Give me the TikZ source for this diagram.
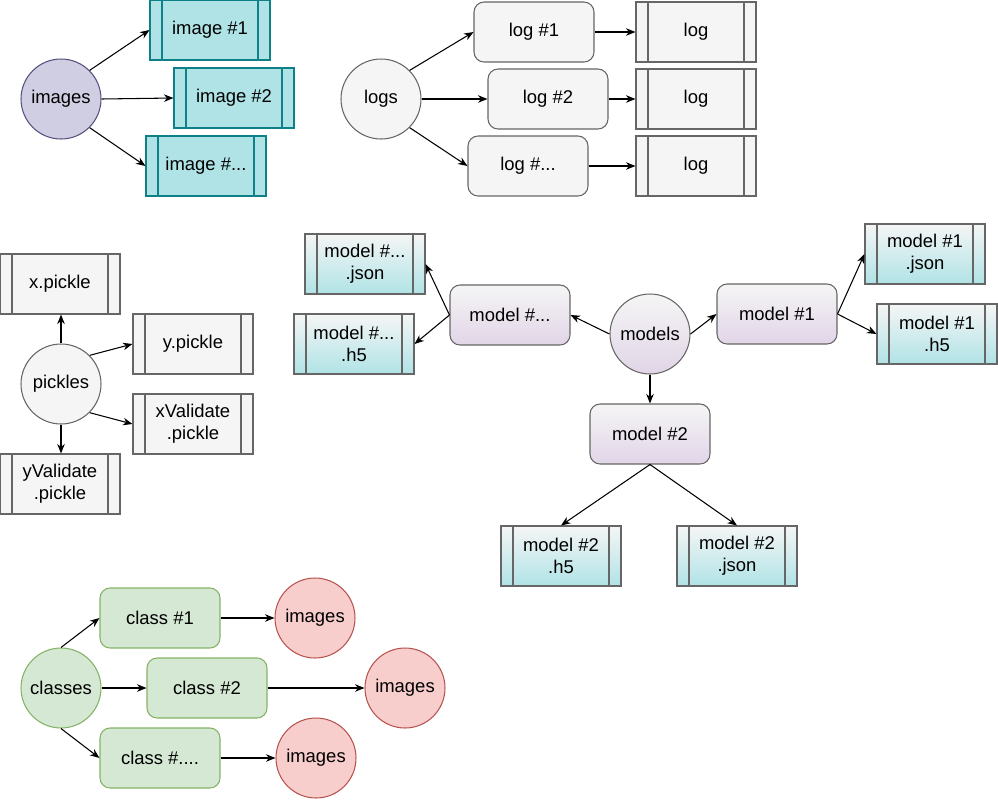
\documentclass[tikz,border=0pt]{standalone}
\usepackage{fontspec}
\setmainfont{Liberation Sans}
\usepackage{xcolor}
\usetikzlibrary{arrows.meta,positioning}
\definecolor{tealfill}{HTML}{B0E3E6}
\definecolor{tealline}{HTML}{0E8088}
\definecolor{purpfill}{HTML}{D0CEE2}
\definecolor{purpline}{HTML}{56517E}
\definecolor{grayfill}{HTML}{F5F5F5}
\definecolor{grayline}{HTML}{666666}
\definecolor{greenfill}{HTML}{D5E8D4}
\definecolor{greenline}{HTML}{82B366}
\definecolor{redfill}{HTML}{F8CECC}
\definecolor{redline}{HTML}{B85450}
\definecolor{lilac}{HTML}{E1D5E7}

\begin{document}
\begin{tikzpicture}[x=0.02cm, y=-0.02cm,
  every node/.style={font=\fontsize{10.5}{12.5}\selectfont},
  circ/.style={circle, draw=#1, minimum size=1.6cm, inner sep=0pt, line width=0.6pt},
  rbox/.style={rectangle, rounded corners=0.2cm, draw=#1, minimum width=2.4cm, minimum height=1.2cm, inner sep=0pt, align=center, line width=0.6pt},
  proc/.style={rectangle, draw=#1, minimum width=2.4cm, minimum height=1.2cm, inner sep=0pt, align=center, line width=0.6pt,
    path picture={\draw[#1, line width=0.6pt]
      ([xshift=0.24cm]path picture bounding box.north west) -- ([xshift=0.24cm]path picture bounding box.south west)
      ([xshift=-0.24cm]path picture bounding box.north east) -- ([xshift=-0.24cm]path picture bounding box.south east);}},
  modelfile/.style={proc=grayline, top color=grayfill, bottom color=tealfill},
  modelbox/.style={rbox=grayline, top color=grayfill, bottom color=lilac},
  arr/.style={-{Stealth[length=1.9mm, width=1.5mm, inset=0.6mm]}, line width=0.6pt}
]
\useasboundingbox (0,0) rectangle (998,799);

% images
\node[circ=purpline, fill=purpfill] (imgs) at (61,99) {images};
\node[proc=tealline, fill=tealfill] (img1) at (210,30) {image \#1};
\node[proc=tealline, fill=tealfill] (img2) at (234,98) {image \#2};
\node[proc=tealline, fill=tealfill] (img3) at (206,166) {image \#...};
\draw[arr] (imgs.45) -- (img1.west);
\draw[arr] (imgs.east) -- (img2.west);
\draw[arr] (imgs.-45) -- (img3.west);

% logs
\node[circ=grayline, fill=grayfill] (logs) at (381,99) {logs};
\node[rbox=grayline, fill=grayfill] (log1) at (534,32) {log \#1};
\node[rbox=grayline, fill=grayfill] (log2) at (548,99) {log \#2};
\node[rbox=grayline, fill=grayfill] (log3) at (528,166) {log \#...};
\node[proc=grayline, fill=grayfill] (logf1) at (696,32) {log};
\node[proc=grayline, fill=grayfill] (logf2) at (696,99) {log};
\node[proc=grayline, fill=grayfill] (logf3) at (696,166) {log};
\draw[arr] (logs.45) -- (log1.west);
\draw[arr] (logs.east) -- (log2.west);
\draw[arr] (logs.-45) -- (log3.west);
\draw[arr] (log1.east) -- (logf1.west);
\draw[arr] (log2.east) -- (logf2.west);
\draw[arr] (log3.east) -- (logf3.west);

% pickles
\node[circ=grayline, fill=grayfill] (pick) at (61,384) {pickles};
\node[proc=grayline, fill=grayfill] (xpick) at (60,284) {x.pickle};
\node[proc=grayline, fill=grayfill] (ypick) at (193,344) {y.pickle};
\node[proc=grayline, fill=grayfill] (xval) at (193,424) {xValidate\\.pickle};
\node[proc=grayline, fill=grayfill] (yval) at (60,484) {yValidate\\.pickle};
\draw[arr] (pick.north) -- (xpick.south -| pick.north);
\draw[arr] (pick.45) -- (ypick.west);
\draw[arr] (pick.-45) -- (xval.west);
\draw[arr] (pick.south) -- (yval.north -| pick.south);

% models
\node[circ=grayline, top color=grayfill, bottom color=lilac] (models) at (650,334) {models};
\node[modelbox] (mdots) at (510,315) {model \#...};
\node[modelbox] (mone) at (777,314) {model \#1};
\node[modelbox] (mtwo) at (650,434) {model \#2};
\node[modelfile] (mdotsjson) at (365,264) {model \#...\\.json};
\node[modelfile] (mdotsh5) at (354,344) {model \#...\\.h5};
\node[modelfile] (monejson) at (925,254) {model \#1\\.json};
\node[modelfile] (moneh5) at (937,334) {model \#1\\.h5};
\node[modelfile] (mtwoh5) at (561,556) {model \#2\\.h5};
\node[modelfile] (mtwojson) at (737,556) {model \#2\\.json};
\draw[arr] (models.west) -- (mdots.east);
\draw[arr] (models.east) -- (mone.west);
\draw[arr] (models.south) -- (mtwo.north);
\draw[arr] (mdots.west) -- (mdotsjson.east);
\draw[arr] (mdots.west) -- (mdotsh5.east);
\draw[arr] (mone.east) -- (monejson.west);
\draw[arr] (mone.east) -- (moneh5.west);
\draw[arr] (mtwo.south) -- (mtwoh5.north);
\draw[arr] (mtwo.south) -- (mtwojson.north);

% classes
\node[circ=greenline, fill=greenfill] (classes) at (61,688) {classes};
\node[rbox=greenline, fill=greenfill] (cls1) at (160,618) {class \#1};
\node[rbox=greenline, fill=greenfill] (cls2) at (207,688) {class \#2};
\node[rbox=greenline, fill=greenfill] (cls3) at (160,758) {class \#....};
\node[circ=redline, fill=redfill] (clsimg1) at (315,618) {images};
\node[circ=redline, fill=redfill] (clsimg2) at (405,688) {images};
\node[circ=redline, fill=redfill] (clsimg3) at (316,758) {images};
\draw[arr] (classes.north) -- (cls1.west);
\draw[arr] (classes.east) -- (cls2.west);
\draw[arr] (classes.south) -- (cls3.west);
\draw[arr] (cls1.east) -- (clsimg1.west);
\draw[arr] (cls2.east) -- (clsimg2.west);
\draw[arr] (cls3.east) -- (clsimg3.west);
\end{tikzpicture}
\end{document}
